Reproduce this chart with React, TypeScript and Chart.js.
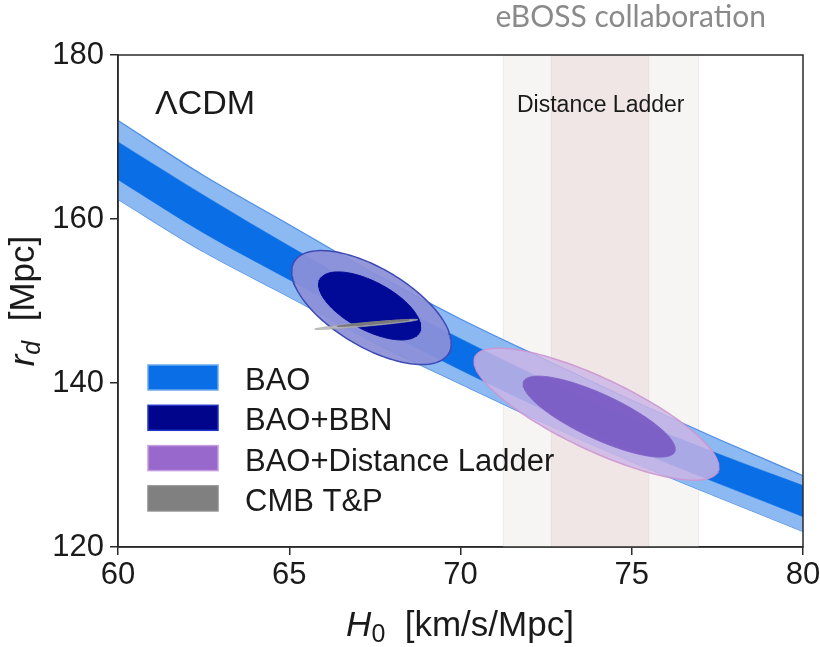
import React, { useEffect, useRef } from "react";
import { Chart, registerables } from "chart.js";

Chart.register(...registerables);

// ---------- data ----------
const xTicks = [60, 65, 70, 75, 80];
const yTicks = [120, 140, 160, 180];

// BAO degeneracy band (H0 grid and band edges in Mpc)
const bandH0 = [60, 62.5, 65, 67.5, 70, 72.5, 75, 77.5, 80];
const baoOuterTop = [172.0, 165.3, 159.3, 153.3, 147.8, 142.8, 137.9, 133.2, 128.7];
const baoInnerTop = [169.4, 162.9, 156.7, 150.8, 145.4, 140.3, 135.6, 131.4, 127.5];
const baoInnerBot = [164.8, 158.3, 152.6, 146.9, 141.6, 136.6, 132.0, 127.8, 123.7];
const baoOuterBot = [162.4, 156.0, 150.5, 144.9, 139.9, 135.0, 130.4, 126.1, 121.9];

// contours: [H0 centre, rd centre, half-width in H0, half-height in rd, correlation]
const bbnOuter = [67.4, 149.2, 2.33, 6.95, -0.63];
const bbnInner = [67.35, 149.4, 1.49, 4.15, -0.62];
const dlOuter = [73.97, 136.2, 3.57, 8.05, -0.8];
const dlInner = [74.05, 135.9, 2.22, 4.94, -0.8];
const cmbOuter = [67.25, 147.15, 1.5, 0.62, 0.93];
const cmbInner = [67.45, 147.3, 1.05, 0.42, 0.95];

// Distance ladder prior on H0 (1 and 2 sigma ranges)
const ladderOuter = [71.25, 76.95];
const ladderInner = [72.65, 75.5];

const legendLabels = ["BAO", "BAO+BBN", "BAO+Distance Ladder", "CMB T&P"];
const legendColors = ["#0a6fe6", "#00058c", "#9868cc", "#808080"];
const legendEdges = ["#6aa8f0", "#2236c8", "#c49ae0", "#8a8a8a"];

// ---------- helpers ----------
function contour(p: number[]) {
  const [cx, cy, hw, hh, rho] = p;
  const s = Math.sqrt(1 - rho * rho);
  const pts: { x: number; y: number }[] = [];
  const n = 160;
  for (let i = 0; i <= n; i++) {
    const t = (i / n) * Math.PI * 2;
    pts.push({ x: cx + hw * Math.cos(t), y: cy + hh * (rho * Math.cos(t) + s * Math.sin(t)) });
  }
  return pts;
}
function line(ys: number[]) {
  return bandH0.map((x, i) => ({ x, y: ys[i] }));
}

const FONT = "'Liberation Sans', Arial, sans-serif";

const decor = {
  id: "decor",
  beforeDatasetsDraw(chart: any) {
    const { ctx, chartArea: a, scales } = chart;
    const x = scales.x;
    ctx.save();
    const o1 = x.getPixelForValue(ladderOuter[0]);
    const o2 = x.getPixelForValue(ladderOuter[1]);
    const i1 = x.getPixelForValue(ladderInner[0]);
    const i2 = x.getPixelForValue(ladderInner[1]);
    ctx.fillStyle = "#f7f5f4";
    ctx.fillRect(o1, a.top, o2 - o1, a.bottom - a.top);
    ctx.fillStyle = "#efe6e5";
    ctx.fillRect(i1, a.top, i2 - i1, a.bottom - a.top);
    ctx.strokeStyle = "rgba(215,200,200,0.35)";
    ctx.lineWidth = 1;
    [o1, o2, i1, i2].forEach((px) => {
      ctx.beginPath();
      ctx.moveTo(px, a.top);
      ctx.lineTo(px, a.bottom);
      ctx.stroke();
    });
    ctx.fillStyle = "#1a1a1a";
    ctx.font = `23px ${FONT}`;
    ctx.textBaseline = "alphabetic";
    ctx.fillText("Distance Ladder", 517, 112);
    ctx.font = `34px ${FONT}`;
    ctx.fillText("ΛCDM", 155, 114);
    ctx.restore();
  },
  afterDraw(chart: any) {
    const { ctx, chartArea: a } = chart;
    ctx.save();
    // frame
    ctx.strokeStyle = "#2a2a2a";
    ctx.lineWidth = 1.5;
    ctx.strokeRect(a.left, a.top, a.right - a.left, a.bottom - a.top);
    // legend
    ctx.font = `31px ${FONT}`;
    ctx.textBaseline = "alphabetic";
    legendLabels.forEach((lab, k) => {
      const top = 365 + k * 40.3;
      ctx.fillStyle = legendColors[k];
      ctx.fillRect(148, top, 70, 25);
      ctx.strokeStyle = legendEdges[k];
      ctx.lineWidth = 1.5;
      ctx.strokeRect(148, top, 70, 25);
      ctx.fillStyle = "#1a1a1a";
      ctx.fillText(lab, 245, top + 25);
    });
    // x title
    ctx.fillStyle = "#1a1a1a";
    const big = 35;
    ctx.font = `italic ${big}px ${FONT}`;
    const wH = ctx.measureText("H").width;
    ctx.font = `${Math.round(big * 0.7)}px ${FONT}`;
    const w0 = ctx.measureText("0").width;
    ctx.font = `${big}px ${FONT}`;
    const rest = "  [km/s/Mpc]";
    const wR = ctx.measureText(rest).width;
    let sx = 460 - (wH + w0 + wR) / 2;
    const by = 636;
    ctx.font = `italic ${big}px ${FONT}`;
    ctx.fillText("H", sx, by);
    sx += wH;
    ctx.font = `${Math.round(big * 0.7)}px ${FONT}`;
    ctx.fillText("0", sx, by + 6);
    sx += w0;
    ctx.font = `${big}px ${FONT}`;
    ctx.fillText(rest, sx, by);
    // y title
    ctx.translate(34, 301);
    ctx.rotate(-Math.PI / 2);
    ctx.font = `italic ${big}px ${FONT}`;
    const wr = ctx.measureText("r").width;
    ctx.font = `italic ${Math.round(big * 0.7)}px ${FONT}`;
    const wd = ctx.measureText("d").width;
    ctx.font = `${big}px ${FONT}`;
    const restY = "  [Mpc]";
    const wRY = ctx.measureText(restY).width;
    let ty = -(wr + wd + wRY) / 2;
    ctx.font = `italic ${big}px ${FONT}`;
    ctx.fillText("r", ty, 0);
    ty += wr;
    ctx.font = `italic ${Math.round(big * 0.7)}px ${FONT}`;
    ctx.fillText("d", ty, 6);
    ty += wd;
    ctx.font = `${big}px ${FONT}`;
    ctx.fillText(restY, ty, 0);
    ctx.restore();
    // watermark
    ctx.save();
    ctx.fillStyle = "#8a8a8a";
    ctx.font = "30px Lato, 'Open Sans', sans-serif";
    ctx.textAlign = "right";
    ctx.textBaseline = "alphabetic";
    ctx.fillText("eBOSS collaboration", 766, 27);
    ctx.restore();
  },
};

export default function App() {
  const ref = useRef<HTMLCanvasElement>(null);
  useEffect(() => {
    document.body.style.margin = "0";
    const canvas = ref.current!;
    const shape = (p: number[], bg: string, border: string, bw = 1.2) => ({
      data: contour(p),
      showLine: true,
      fill: "shape",
      backgroundColor: bg,
      borderColor: border,
      borderWidth: bw,
      pointRadius: 0,
      tension: 0,
    });
    const chart = new Chart(canvas, {
      type: "scatter",
      data: {
        datasets: [
          shape(cmbInner, "rgba(120,120,120,0.9)", "rgba(110,110,110,0.9)", 0.8),
          shape(cmbOuter, "rgba(190,190,190,0.85)", "rgba(165,165,165,0.9)", 0.8),
          shape(dlInner, "rgba(122,92,196,0.95)", "rgba(130,100,200,0.9)", 1),
          shape(dlOuter, "rgba(205,182,228,0.82)", "rgba(205,150,210,0.9)", 1.5),
          shape(bbnInner, "#000a96", "#000a96", 1),
          shape(bbnOuter, "rgba(140,144,216,0.93)", "#3c4bb4", 1.5),
          {
            data: line(baoInnerTop),
            showLine: true,
            fill: "+1",
            backgroundColor: "#0a6fe6",
            borderColor: "#0a6fe6",
            borderWidth: 0.5,
            pointRadius: 0,
            cubicInterpolationMode: "monotone",
          },
          {
            data: line(baoInnerBot),
            showLine: true,
            fill: false,
            borderColor: "#0a6fe6",
            borderWidth: 0.5,
            pointRadius: 0,
            cubicInterpolationMode: "monotone",
          },
          {
            data: line(baoOuterTop),
            showLine: true,
            fill: "+1",
            backgroundColor: "#8cb9f1",
            borderColor: "#4f8fe6",
            borderWidth: 1.3,
            pointRadius: 0,
            cubicInterpolationMode: "monotone",
          },
          {
            data: line(baoOuterBot),
            showLine: true,
            fill: false,
            borderColor: "#4f8fe6",
            borderWidth: 1.3,
            pointRadius: 0,
            cubicInterpolationMode: "monotone",
          },
        ] as any,
      },
      options: {
        animation: false,
        responsive: false,
        events: [],
        layout: { padding: { left: 0, top: 55, right: 17, bottom: 0 } },
        plugins: { legend: { display: false }, tooltip: { enabled: false }, title: { display: false } },
        scales: {
          x: {
            type: "linear",
            min: 60,
            max: 80,
            afterBuildTicks: (s: any) => {
              s.ticks = xTicks.map((v) => ({ value: v }));
            },
            afterFit: (s: any) => {
              s.height = 100;
              s.paddingLeft = 0;
              s.paddingRight = 0;
            },
            ticks: { color: "#1a1a1a", font: { family: FONT, size: 31 }, padding: 2, maxRotation: 0 },
            grid: { drawOnChartArea: false, drawTicks: true, tickLength: 8, color: "#2a2a2a", lineWidth: 1.5 },
            border: { display: true, color: "#2a2a2a", width: 1.5 },
          },
          y: {
            type: "linear",
            min: 120,
            max: 180,
            afterBuildTicks: (s: any) => {
              s.ticks = yTicks.map((v) => ({ value: v }));
            },
            afterFit: (s: any) => {
              s.width = 118;
              s.paddingTop = 0;
              s.paddingBottom = 0;
            },
            ticks: { color: "#1a1a1a", font: { family: FONT, size: 31 }, padding: 6 },
            grid: { drawOnChartArea: false, drawTicks: true, tickLength: 8, color: "#2a2a2a", lineWidth: 1.5 },
            border: { display: true, color: "#2a2a2a", width: 1.5 },
          },
        },
      } as any,
      plugins: [decor],
    });
    return () => chart.destroy();
  }, []);
  return (
    <div style={{ width: 820, height: 647 }}>
      <canvas ref={ref} width={820} height={647} style={{ display: "block" }} />
    </div>
  );
}
